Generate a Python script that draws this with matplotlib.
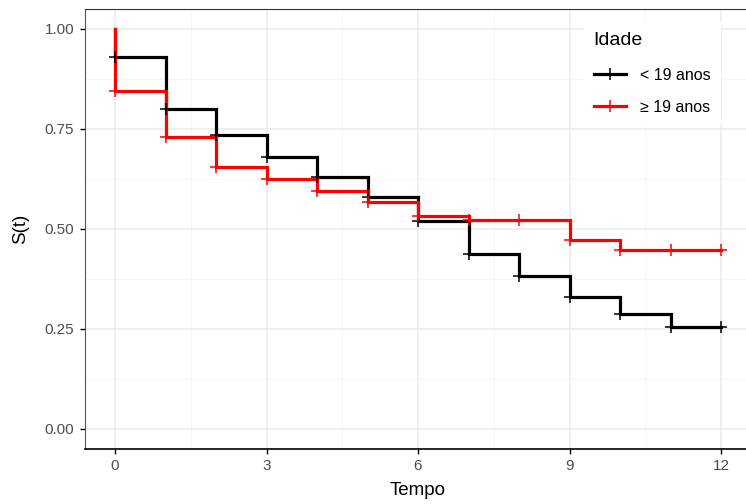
import matplotlib
matplotlib.use("Agg")
import matplotlib.pyplot as plt
from matplotlib.lines import Line2D

plt.rcParams['font.family'] = ['Liberation Sans', 'DejaVu Sans']

times = [0, 1, 2, 3, 4, 5, 6, 7, 8, 9, 10, 11, 12]
surv_young = [0.93, 0.80, 0.735, 0.68, 0.63, 0.58, 0.52, 0.4375, 0.3825, 0.33, 0.2875, 0.255, 0.255]
surv_old = [0.845, 0.73, 0.655, 0.625, 0.595, 0.5675, 0.5325, 0.5225, 0.5225, 0.4725, 0.4475, 0.4475, 0.4475]
labels = ['< 19 anos', '\u2265 19 anos']
colors = ['black', '#FF0000']

fig = plt.figure(figsize=(7.46, 5.04), dpi=100)
ax = fig.add_axes([84.7/746, 55/504, 666.6/746, 440/504])

ax.set_xlim(-0.6, 12.6)
ax.set_ylim(-0.05, 1.05)

# grid
for v in [1.5, 4.5, 7.5, 10.5]:
    ax.axvline(v, color='#F2F2F2', lw=0.55, zorder=0)
for v in [0.125, 0.375, 0.625, 0.875]:
    ax.axhline(v, color='#F2F2F2', lw=0.55, zorder=0)
for v in [0, 3, 6, 9, 12]:
    ax.axvline(v, color='#EBEBEB', lw=1.1, zorder=0)
for v in [0, 0.25, 0.5, 0.75, 1.0]:
    ax.axhline(v, color='#EBEBEB', lw=1.1, zorder=0)

for s, c, lab in zip([surv_young, surv_old], colors, labels):
    xs = [0] + times
    ys = [1.0] + s
    ax.step(xs, ys, where='post', color=c, lw=2.3, zorder=3, solid_joinstyle='miter')
    ax.plot(times, s, ls='none', marker='+', ms=9, mew=1.1, color=c, zorder=4)

ax.set_xticks([0, 3, 6, 9, 12])
ax.set_yticks([0, 0.25, 0.5, 0.75, 1.0])
ax.set_yticklabels(['0.00', '0.25', '0.50', '0.75', '1.00'])
ax.tick_params(axis='both', colors='black', labelcolor='#4D4D4D', labelsize=11, length=3.5, width=1.0, direction='out', pad=4)

for sp in ax.spines.values():
    sp.set_color('#333333')
    sp.set_linewidth(0.8)
ax.spines['bottom'].set_color('black')
ax.spines['bottom'].set_linewidth(1.2)
ax.spines['left'].set_color('#555555')

ax.set_xlabel('Tempo', fontsize=13.5, color='black', labelpad=6)
ax.set_ylabel('S(t)', fontsize=13.5, color='black', labelpad=11)

handles = [Line2D([0], [0], color=c, lw=2.3, marker='+', ms=9, mew=1.1) for c in colors]
leg = ax.legend(handles, labels, title='Idade', loc='upper left',
                bbox_to_anchor=((576 - 84.7)/666.6, 1 - 5/440),
                frameon=True, fancybox=False, edgecolor='white', facecolor='white', framealpha=1,
                fontsize=11.5, title_fontsize=14, handlelength=2.0, labelspacing=1.05,
                borderpad=0.6, handletextpad=0.9)
leg._legend_box.align = 'left'
leg._legend_box.sep = 14
leg.set_zorder(5)

fig.savefig('out.png', dpi=100)
